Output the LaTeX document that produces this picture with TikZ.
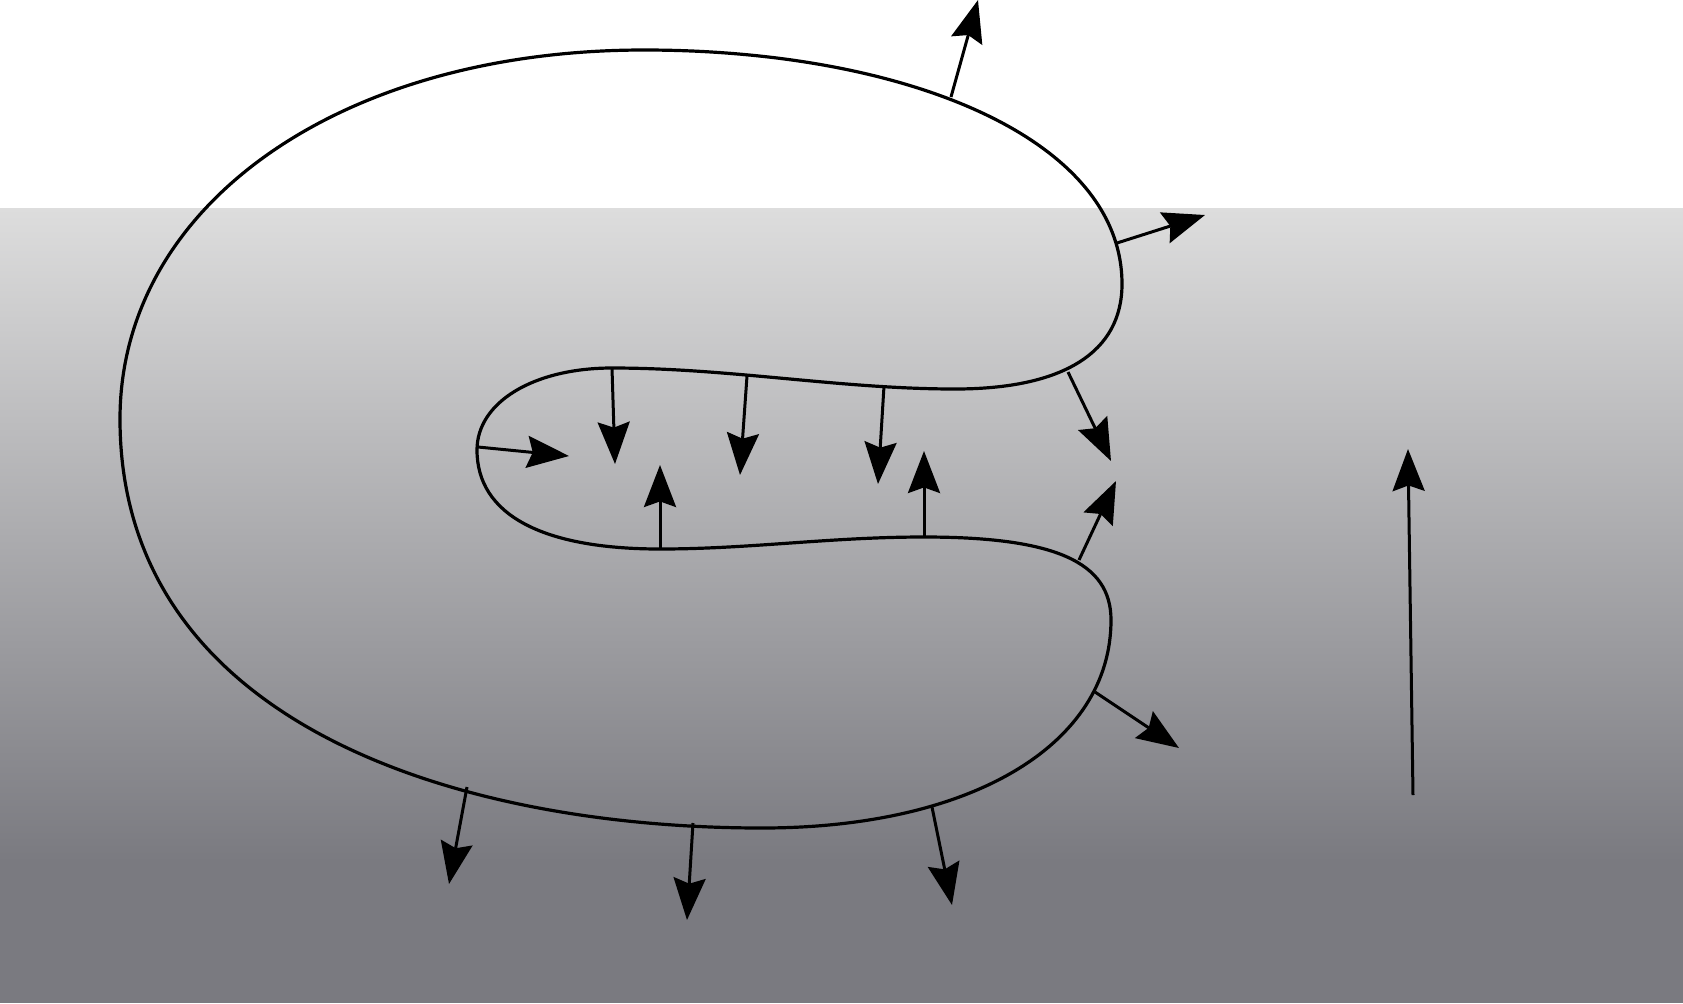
\documentclass[tikz,border=0pt]{standalone}
\usetikzlibrary{arrows.meta}
\definecolor{gtop}{RGB}{221,221,221}
\definecolor{gbot}{RGB}{122,122,128}
\tikzset{
  outline/.style={line width=1.6pt, black, line join=round},
  vec/.style={line width=1.5pt, black, -{Stealth[length=21pt,width=16pt,inset=2.8pt]}}
}
\begin{document}
\begin{tikzpicture}[x=0.5pt,y=-0.5pt]
\useasboundingbox (0,0) rectangle (1683,1003);
\fill[white] (0,0) rectangle (1683,1003);
\shade[top color=gtop, bottom color=gbot] (0,208) rectangle (1683,862);
\fill[gbot] (0,861) rectangle (1683,1003);
% outline
\coordinate (pL) at (120,419);
\coordinate (pT) at (644,50);
\coordinate (pR) at (1122,284);
\coordinate (pU) at (955,389);
\coordinate (pI) at (612,368);
\coordinate (pIL) at (477,450);
\coordinate (pIB) at (660,549);
\coordinate (pM) at (924,537);
\coordinate (pR2) at (1111,620);
\coordinate (pB) at (762,828);
\draw[outline] (pL)
  .. controls (120,205) and (340,50) .. (pT)
  .. controls (907,50) and (1122,139) .. (pR)
  .. controls (1122,352) and (1064,389) .. (pU)
  .. controls (840,389) and (730,368) .. (pI)
  .. controls (534,368) and (477,402) .. (pIL)
  .. controls (477,514) and (541,549) .. (pIB)
  .. controls (750,549) and (830,537) .. (pM)
  .. controls (1055,537) and (1111,562) .. (pR2)
  .. controls (1111,745) and (971,828) .. (pB)
  .. controls (460,828) and (120,725) .. (pL) -- cycle;
% arrow coordinates
\coordinate (a1s) at (951,97);   \coordinate (a1e) at (978,0);
\coordinate (a2s) at (1117,243); \coordinate (a2e) at (1205,215);
\coordinate (a3s) at (1068,372); \coordinate (a3e) at (1111,461);
\coordinate (a4s) at (1079,560); \coordinate (a4e) at (1116,481);
\coordinate (a5s) at (1095,692); \coordinate (a5e) at (1179,748);
\coordinate (a6s) at (932,807);  \coordinate (a6e) at (952,905);
\coordinate (a7s) at (693,823);  \coordinate (a7e) at (687,920);
\coordinate (a8s) at (467,787);  \coordinate (a8e) at (449,884);
\coordinate (b1s) at (478,447);  \coordinate (b1e) at (569,456);
\coordinate (b2s) at (612,368);  \coordinate (b2e) at (615,464);
\coordinate (b3s) at (747,376);  \coordinate (b3e) at (740,475);
\coordinate (b4s) at (884,386);  \coordinate (b4e) at (878,484);
\coordinate (b5s) at (660,550);  \coordinate (b5e) at (660,465);
\coordinate (b6s) at (924,537);  \coordinate (b6e) at (924,451);
\coordinate (gs) at (1413,795);  \coordinate (ge) at (1408,449);
\foreach \n in {a1,a2,a3,a4,a5,a6,a7,a8,b1,b2,b3,b4,b5,b6,g}
  \draw[vec] (\n s) -- (\n e);
\end{tikzpicture}
\end{document}
